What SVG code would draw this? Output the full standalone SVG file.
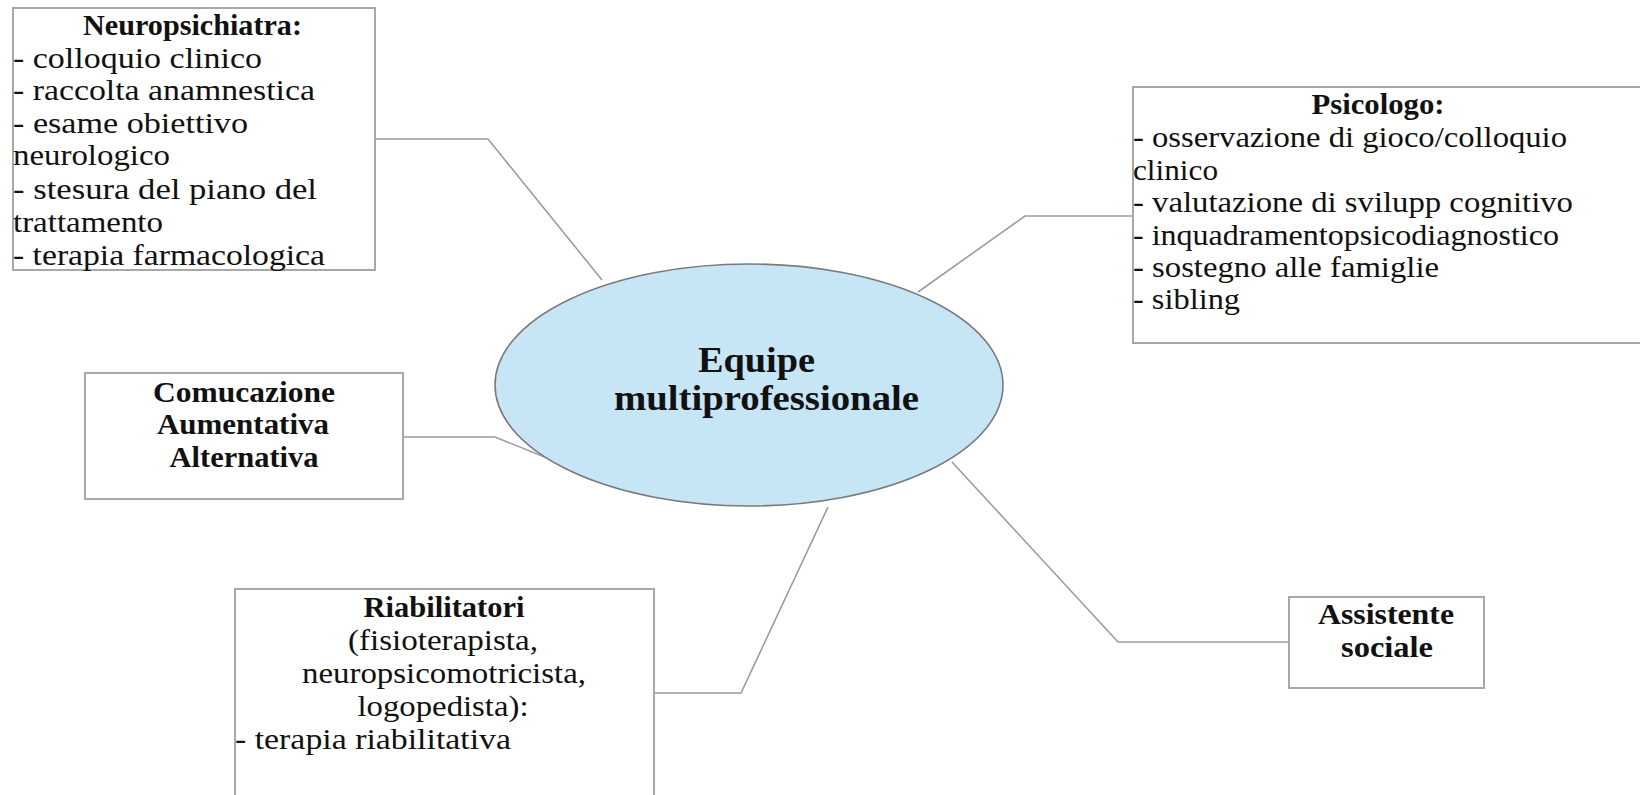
<svg xmlns="http://www.w3.org/2000/svg" width="1640" height="795" viewBox="0 0 1640 795">
<style>
.box{fill:#ffffff;stroke:#a8a8a8;stroke-width:2}
.ell{fill:#c6e5f5;stroke:#7a7a7a;stroke-width:1.6}
.con{fill:none;stroke:#9c9c9c;stroke-width:1.6}
text{font-family:"Liberation Serif","Times New Roman",serif;fill:#111111}
.t{font-size:30px;font-weight:bold}
.b{font-size:30px}
.c{text-anchor:middle}
.e{font-size:35px;font-weight:bold}
</style>
<rect width="1640" height="795" fill="#ffffff"/>
<g id="connectors">
<path class="con" d="M375 139 H488 L602 280"/>
<path class="con" d="M918 292 L1025 216 H1133"/>
<path class="con" d="M403 437 H495 L557 462"/>
<path class="con" d="M654 693 H741 L828 507"/>
<path class="con" d="M952 462 L1118 642 H1289"/>
</g>
<g id="center">
<ellipse class="ell" cx="749" cy="385" rx="254" ry="121"/>
<text class="e" x="698" y="372" textLength="117" lengthAdjust="spacingAndGlyphs">Equipe</text>
<text class="e" x="614" y="410" textLength="305" lengthAdjust="spacingAndGlyphs">multiprofessionale</text>
</g>
<g id="neuropsichiatra">
<rect class="box" x="13" y="8" width="362" height="262"/>
<text class="t c" x="192.5" y="35" textLength="219" lengthAdjust="spacingAndGlyphs">Neuropsichiatra:</text>
<text class="b" x="13" y="68" textLength="249" lengthAdjust="spacingAndGlyphs">- colloquio clinico</text>
<text class="b" x="13" y="100" textLength="302" lengthAdjust="spacingAndGlyphs">- raccolta anamnestica</text>
<text class="b" x="13" y="133" textLength="235" lengthAdjust="spacingAndGlyphs">- esame obiettivo</text>
<text class="b" x="13" y="165" textLength="157" lengthAdjust="spacingAndGlyphs">neurologico</text>
<text class="b" x="13" y="199" textLength="304" lengthAdjust="spacingAndGlyphs">- stesura del piano del</text>
<text class="b" x="13" y="232" textLength="150" lengthAdjust="spacingAndGlyphs">trattamento</text>
<text class="b" x="13" y="265" textLength="312" lengthAdjust="spacingAndGlyphs">- terapia farmacologica</text>
</g>
<g id="psicologo">
<rect class="box" x="1133" y="87" width="520" height="256"/>
<text class="t c" x="1378" y="114" textLength="133" lengthAdjust="spacingAndGlyphs">Psicologo:</text>
<text class="b" x="1133" y="147" textLength="434" lengthAdjust="spacingAndGlyphs">- osservazione di gioco/colloquio</text>
<text class="b" x="1133" y="180" textLength="85" lengthAdjust="spacingAndGlyphs">clinico</text>
<text class="b" x="1133" y="212" textLength="440" lengthAdjust="spacingAndGlyphs">- valutazione di svilupp cognitivo</text>
<text class="b" x="1133" y="245" textLength="426" lengthAdjust="spacingAndGlyphs">- inquadramentopsicodiagnostico</text>
<text class="b" x="1133" y="277" textLength="306" lengthAdjust="spacingAndGlyphs">- sostegno alle famiglie</text>
<text class="b" x="1133" y="309" textLength="107" lengthAdjust="spacingAndGlyphs">- sibling</text>
</g>
<g id="comunicazione">
<rect class="box" x="85" y="373" width="318" height="126"/>
<text class="t c" x="244" y="402" textLength="182" lengthAdjust="spacingAndGlyphs">Comucazione</text>
<text class="t c" x="243" y="434" textLength="172" lengthAdjust="spacingAndGlyphs">Aumentativa</text>
<text class="t c" x="244" y="467" textLength="149" lengthAdjust="spacingAndGlyphs">Alternativa</text>
</g>
<g id="riabilitatori">
<rect class="box" x="235" y="589" width="419" height="220"/>
<text class="t c" x="444" y="617" textLength="161" lengthAdjust="spacingAndGlyphs">Riabilitatori</text>
<text class="b c" x="443" y="650" textLength="190" lengthAdjust="spacingAndGlyphs">(fisioterapista,</text>
<text class="b c" x="444" y="683" textLength="284" lengthAdjust="spacingAndGlyphs">neuropsicomotricista,</text>
<text class="b c" x="443" y="716" textLength="171" lengthAdjust="spacingAndGlyphs">logopedista):</text>
<text class="b" x="235" y="749" textLength="276" lengthAdjust="spacingAndGlyphs">- terapia riabilitativa</text>
</g>
<g id="assistente">
<rect class="box" x="1289" y="597" width="195" height="91"/>
<text class="t c" x="1386" y="624" textLength="136" lengthAdjust="spacingAndGlyphs">Assistente</text>
<text class="t c" x="1387" y="657" textLength="92" lengthAdjust="spacingAndGlyphs">sociale</text>
</g>
</svg>
